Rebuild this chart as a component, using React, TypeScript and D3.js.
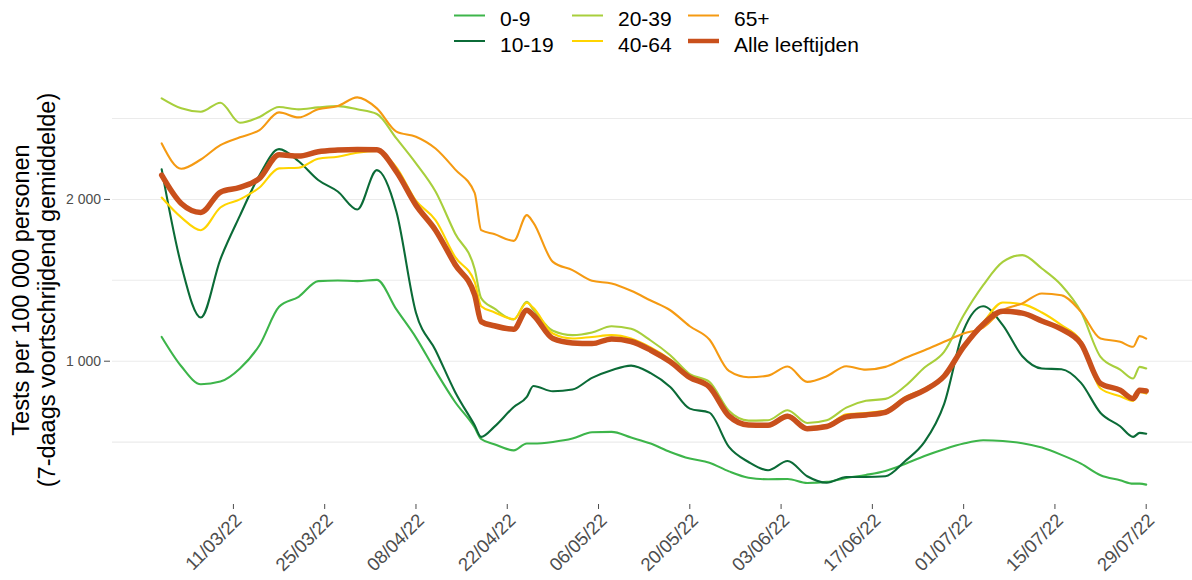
import * as d3 from 'd3';
import { useEffect, useRef } from 'react';

// days since 28/02/22 for every sampled point
const dayOffsets = [0, 3, 6, 9, 12, 15, 18, 21, 24, 27, 30, 33, 36, 39, 42, 45, 48, 49, 51, 54, 56, 57,
  60, 63, 66, 69, 72, 75, 78, 81, 84, 87, 90, 93, 96, 99, 102, 105, 108, 111, 114, 117,
  120, 123, 126, 129, 132, 135, 138, 141, 144, 147, 149, 150, 151];

const age0_9 = [1150, 969, 858, 874, 955, 1099, 1336, 1398, 1495, 1499, 1495, 1503, 1320, 1146, 940, 748, 590, 519, 487, 449, 491, 491,
  501, 522, 561, 563, 528, 491, 439, 398, 373, 319, 280, 270, 272, 247, 254, 278, 297, 322, 365, 414,
  456, 491, 511, 507, 493, 466, 421, 367, 295, 264, 243, 243, 237];
const age10_19 = [2186, 1594, 1270, 1630, 1900, 2150, 2311, 2236, 2120, 2049, 1938, 2181, 1924, 1300, 1068, 810, 604, 532, 594, 717, 779, 847,
  814, 825, 897, 944, 973, 926, 841, 707, 682, 470, 377, 326, 383, 289, 249, 284, 284, 289, 382, 501,
  735, 1192, 1340, 1223, 1031, 955, 950, 866, 680, 598, 532, 557, 552];
const age20_39 = [2625, 2563, 2542, 2598, 2474, 2510, 2571, 2557, 2569, 2577, 2557, 2528, 2377, 2223, 2049, 1790, 1570, 1390, 1326, 1258, 1367, 1320,
  1188, 1161, 1177, 1216, 1200, 1128, 1037, 920, 872, 693, 633, 635, 697, 618, 635, 713, 755, 767, 845, 961,
  1058, 1284, 1470, 1614, 1656, 1573, 1470, 1305, 1027, 948, 893, 965, 955];
const age40_64 = [2012, 1889, 1810, 1950, 2000, 2074, 2192, 2196, 2252, 2264, 2289, 2299, 2198, 1992, 1872, 1645, 1491, 1340, 1303, 1260, 1361, 1330,
  1171, 1140, 1150, 1161, 1140, 1085, 1010, 910, 850, 670, 612, 610, 668, 592, 605, 672, 680, 695, 778, 830,
  915, 1095, 1240, 1363, 1353, 1301, 1223, 1125, 831, 783, 755, 810, 800];
const age65plus = [2346, 2190, 2247, 2336, 2384, 2429, 2538, 2507, 2557, 2577, 2631, 2563, 2419, 2388, 2315, 2186, 2040, 1810, 1786, 1744, 1903, 1856,
  1614, 1563, 1497, 1480, 1435, 1375, 1315, 1216, 1134, 940, 901, 911, 967, 872, 907, 969, 948, 965, 1020, 1068,
  1120, 1171, 1208, 1315, 1357, 1419, 1408, 1305, 1140, 1120, 1089, 1155, 1140];
const allAges = [2150, 1975, 1920, 2045, 2074, 2130, 2276, 2268, 2295, 2305, 2309, 2307, 2171, 1965, 1810, 1598, 1410, 1245, 1219, 1198, 1315, 1285,
  1140, 1113, 1109, 1138, 1122, 1068, 996, 899, 841, 662, 606, 604, 660, 583, 596, 656, 668, 684, 765, 821,
  907, 1089, 1229, 1309, 1297, 1249, 1198, 1109, 862, 821, 769, 821, 816];

const seriesNames = ['0-9', '10-19', '20-39', '40-64', '65+', 'Alle leeftijden'];
const seriesValues = [age0_9, age10_19, age20_39, age40_64, age65plus, allAges];
const seriesColors = ['#3db54a', '#0b6b37', '#a8cf3c', '#ffd400', '#f59a12', '#c9501c'];

const xTickLabels = ['11/03/22', '25/03/22', '08/04/22', '22/04/22', '06/05/22', '20/05/22',
  '03/06/22', '17/06/22', '01/07/22', '15/07/22', '29/07/22'];
const yMajor = [1000, 2000];
const yMinor = [500, 1500, 2500];

const yTitle = ['Tests per 100 000 personen', '(7-daags voortschrijdend gemiddelde)'];

function App() {
  const svgRef = useRef<SVGSVGElement>(null);

  useEffect(() => {
    const W = 1192;
    const H = 580;
    const svg = d3.select(svgRef.current);
    svg.selectAll('*').remove();
    svg.attr('width', W).attr('height', H);

    const start = new Date(2022, 1, 28);
    const dates = dayOffsets.map(d => d3.timeDay.offset(start, d));
    const parse = d3.timeParse('%d/%m/%y');

    const x = d3.scaleTime()
      .domain([dates[0], dates[dates.length - 1]])
      .range([161.7, 1146.2]);

    // ggplot style 5% expansion of the data range
    const all = seriesValues.flat();
    const lo = d3.min(all) as number;
    const hi = d3.max(all) as number;
    const pad = (hi - lo) * 0.05;
    const y = d3.scaleLinear().domain([lo - pad, hi + pad]).range([504, 78]);

    const panelLeft = 112;
    const panelRight = W;

    // grid
    svg.append('g').selectAll('line')
      .data([...yMinor, ...yMajor])
      .enter().append('line')
      .attr('x1', panelLeft).attr('x2', panelRight)
      .attr('y1', d => y(d)).attr('y2', d => y(d))
      .attr('stroke', '#ebebeb')
      .attr('stroke-width', 1.1);

    // y axis
    const fmt = d3.formatLocale({ decimal: ',', thousands: ' ', grouping: [3], currency: ['', ''] }).format(',');
    const yAxis = svg.append('g').attr('class', 'y-axis');
    yAxis.selectAll('line')
      .data(yMajor)
      .enter().append('line')
      .attr('x1', 104).attr('x2', 110)
      .attr('y1', d => y(d)).attr('y2', d => y(d))
      .attr('stroke', '#4d4d4d')
      .attr('stroke-width', 1);
    yAxis.selectAll('text')
      .data(yMajor)
      .enter().append('text')
      .attr('x', 101)
      .attr('y', d => y(d))
      .attr('dy', '0.36em')
      .attr('text-anchor', 'end')
      .attr('fill', '#4d4d4d')
      .style('font-size', '14px')
      .text(d => fmt(d));

    // x axis
    const xAxis = svg.append('g').attr('class', 'x-axis');
    xAxis.selectAll('line')
      .data(xTickLabels)
      .enter().append('line')
      .attr('x1', d => x(parse(d) as Date)).attr('x2', d => x(parse(d) as Date))
      .attr('y1', 504).attr('y2', 509)
      .attr('stroke', '#4d4d4d')
      .attr('stroke-width', 1);
    xAxis.selectAll('text')
      .data(xTickLabels)
      .enter().append('text')
      .attr('transform', d => `translate(${x(parse(d) as Date)},512) rotate(-45)`)
      .attr('dy', '0.72em')
      .attr('text-anchor', 'end')
      .attr('fill', '#4d4d4d')
      .style('font-size', '18.5px')
      .text(d => d);

    // y title
    svg.append('text')
      .attr('transform', 'translate(29,290) rotate(-90)')
      .attr('text-anchor', 'middle')
      .attr('fill', '#000')
      .style('font-size', '23.5px')
      .selectAll('tspan')
      .data(yTitle)
      .enter().append('tspan')
      .attr('x', 0)
      .attr('dy', (d, i) => (i === 0 ? 0 : 25.5))
      .text(d => d);

    // lines
    const line = d3.line<number>()
      .x((d, i) => x(dates[i]))
      .y(d => y(d))
      .curve(d3.curveMonotoneX);

    svg.append('g').selectAll('path')
      .data(seriesValues)
      .enter().append('path')
      .attr('d', d => line(d))
      .attr('fill', 'none')
      .attr('stroke', (d, i) => seriesColors[i])
      .attr('stroke-width', (d, i) => (i === 5 ? 5.5 : 2.1))
      .attr('stroke-linejoin', 'round')
      .attr('stroke-linecap', 'round');

    // legend: 3 columns x 2 rows, filled column by column
    const colKeyX = [454, 572, 688];
    const rowBase = [26, 51.5];
    const legend = svg.append('g').attr('class', 'legend');
    seriesNames.forEach((name, i) => {
      const col = Math.floor(i / 2);
      const row = i % 2;
      const g = legend.append('g');
      g.append('line')
        .attr('x1', colKeyX[col]).attr('x2', colKeyX[col] + 31)
        .attr('y1', rowBase[row] - 10.5).attr('y2', rowBase[row] - 10.5)
        .attr('stroke', seriesColors[i])
        .attr('stroke-width', i === 5 ? 4.5 : 2);
      g.append('text')
        .attr('x', colKeyX[col] + 46)
        .attr('y', rowBase[row])
        .attr('fill', '#000')
        .style('font-size', '21px')
        .text(name);
    });
  }, []);

  return (
    <svg
      ref={svgRef}
      style={{ position: 'absolute', left: 0, top: 0, fontFamily: '"Liberation Sans", Arial, sans-serif', background: '#fff' }}
    />
  );
}

export default App;
